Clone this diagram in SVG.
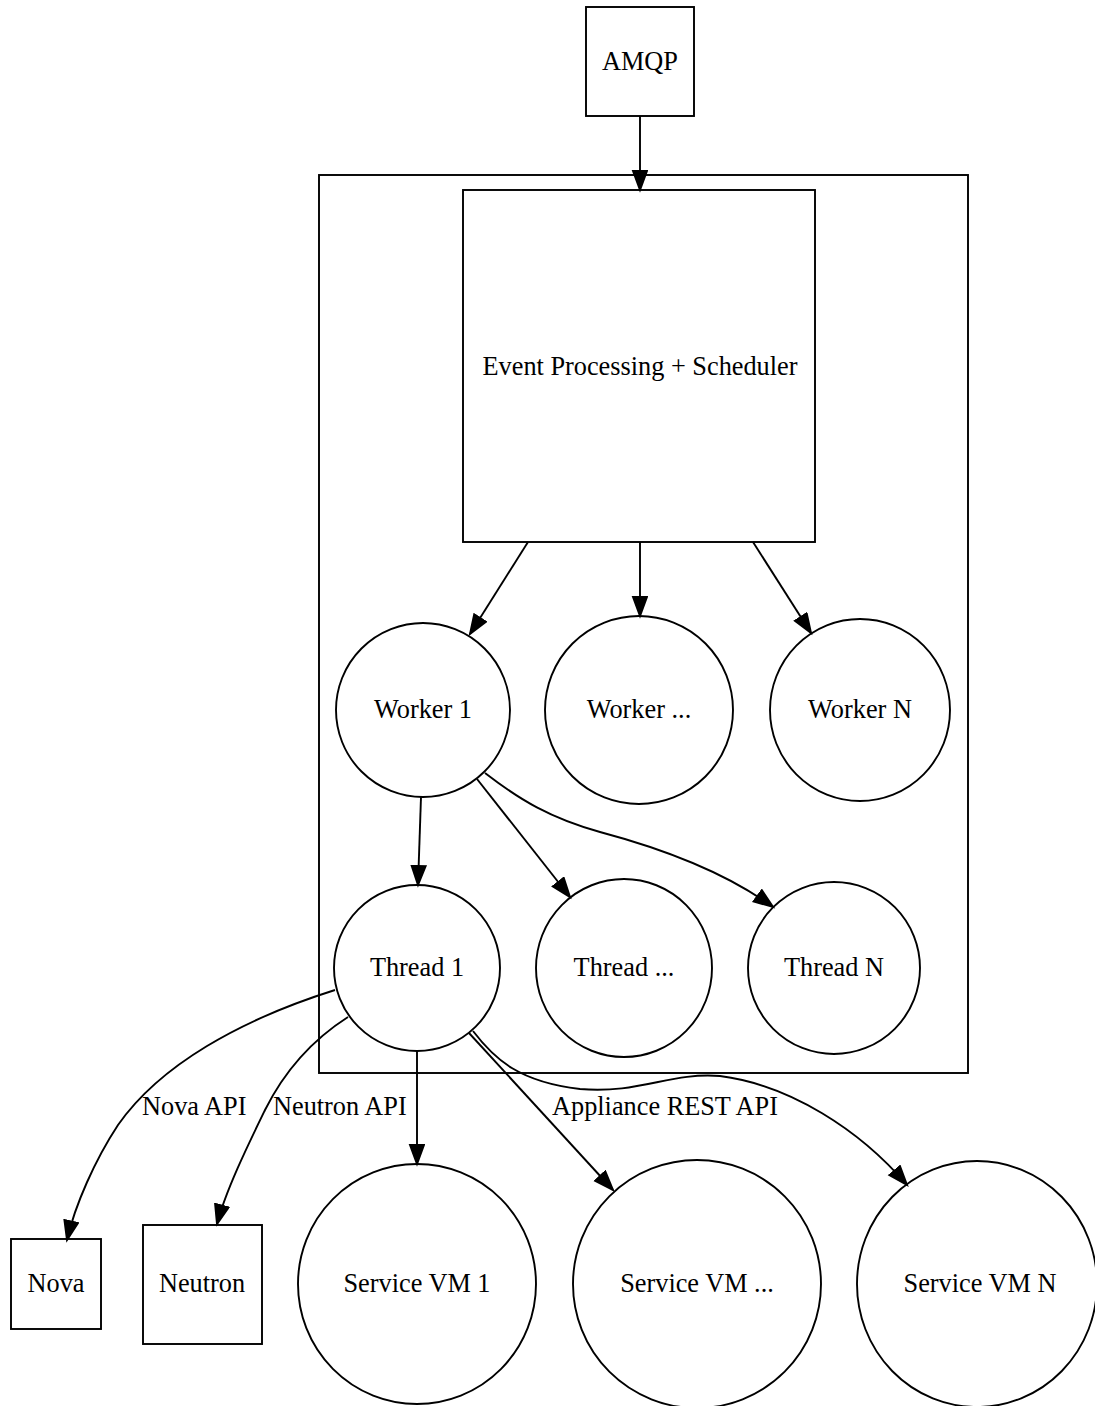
<svg xmlns="http://www.w3.org/2000/svg" width="1095" height="1406" viewBox="0 0 1095 1406">
<style>
.n{fill:#fff;stroke:#000;stroke-width:1.9}
.c{fill:none;stroke:#000;stroke-width:1.9}
.e{fill:none;stroke:#000;stroke-width:1.9;marker-end:url(#ah)}
text{font-family:"Liberation Serif","Times New Roman",serif;font-size:26.3px;fill:#000}
.m{text-anchor:middle}
</style>
<defs>
<marker id="ah" markerUnits="userSpaceOnUse" markerWidth="24" markerHeight="20" refX="20" refY="8" orient="auto" viewBox="0 0 24 20">
<path d="M1,1 L20,8 L1,15 z" fill="#000" stroke="#000" stroke-width="1.9"/>
</marker>
</defs>
<rect width="1095" height="1406" fill="#fff"/>
<g id="cluster"><rect class="c" x="319" y="175" width="649" height="898"/></g>
<g id="amqp"><rect class="n" x="586" y="7" width="108" height="109"/><text class="m" x="640" y="70">AMQP</text></g>
<g id="event"><rect class="n" x="463" y="190" width="352" height="352"/><text class="m" x="640" y="375">Event Processing + Scheduler</text></g>
<g id="worker1"><ellipse class="n" cx="423" cy="710" rx="87" ry="87"/><text class="m" x="423" y="718">Worker 1</text></g>
<g id="workerdots"><ellipse class="n" cx="639" cy="710" rx="94" ry="94"/><text class="m" x="639" y="718">Worker ...</text></g>
<g id="workerN"><ellipse class="n" cx="860" cy="710" rx="90" ry="91"/><text class="m" x="860" y="718">Worker N</text></g>
<g id="thread1"><ellipse class="n" cx="417" cy="968" rx="83" ry="83"/><text class="m" x="417" y="976">Thread 1</text></g>
<g id="threaddots"><ellipse class="n" cx="624" cy="968" rx="88" ry="89"/><text class="m" x="624" y="976">Thread ...</text></g>
<g id="threadN"><ellipse class="n" cx="834" cy="968" rx="86" ry="86"/><text class="m" x="834" y="976">Thread N</text></g>
<g id="nova"><rect class="n" x="11" y="1239" width="90" height="90"/><text class="m" x="56" y="1292">Nova</text></g>
<g id="neutron"><rect class="n" x="143" y="1225" width="119" height="119"/><text class="m" x="202" y="1292">Neutron</text></g>
<g id="svm1"><ellipse class="n" cx="417" cy="1284" rx="119" ry="120"/><text class="m" x="417" y="1292">Service VM 1</text></g>
<g id="svmdots"><ellipse class="n" cx="697" cy="1284" rx="124" ry="124"/><text class="m" x="697" y="1292">Service VM ...</text></g>
<g id="svmN"><ellipse class="n" cx="977" cy="1284" rx="120" ry="123"/><text class="m" x="980" y="1292">Service VM N</text></g>
<g id="connectors">
<path class="e" d="M640,116 L640,190"/>
<path class="e" d="M528,542 L470,634"/>
<path class="e" d="M640,542 L640,616"/>
<path class="e" d="M753,542 L811,633"/>
<path class="e" d="M421,797 L418,885"/>
<path class="e" d="M477,779 L570,897"/>
<path class="e" d="M485,773 C520,800 550,818 600,832 C660,848 725,872 773,907"/>
<path class="e" d="M335,990 C240,1020 160,1065 118,1125 C95,1160 75,1205 67,1240"/>
<path class="e" d="M348,1017 C312,1040 285,1070 265,1110 C248,1145 226,1190 217,1224"/>
<path class="e" d="M417,1051 L417,1164"/>
<path class="e" d="M469,1033 L613,1190"/>
<path class="e" d="M473,1031 C495,1060 520,1082 580,1089 C640,1094 670,1072 720,1076 C790,1085 860,1130 907,1185"/>
<text x="142" y="1115">Nova API</text>
<text x="273" y="1115">Neutron API</text>
<text x="552" y="1115">Appliance REST API</text>
</g>
</svg>
